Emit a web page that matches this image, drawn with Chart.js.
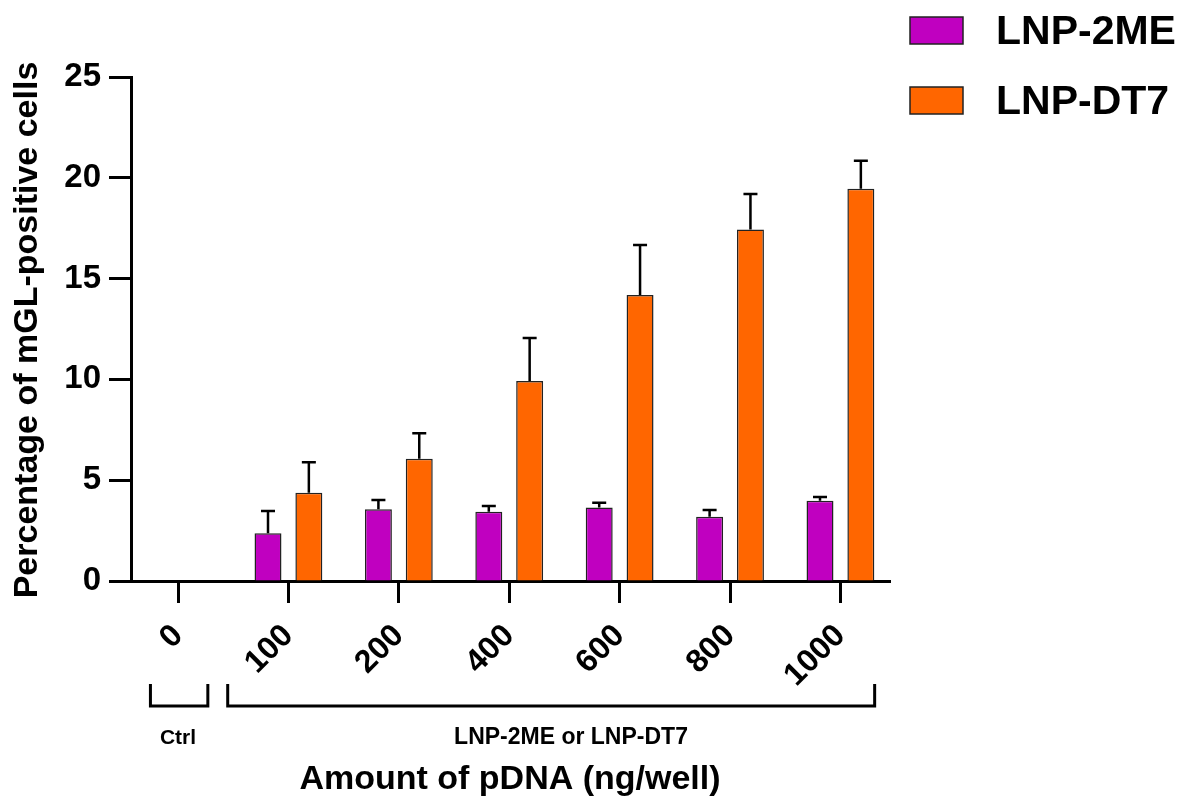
<!DOCTYPE html>
<html>
<head>
<meta charset="utf-8">
<script src="https://cdn.jsdelivr.net/npm/chart.js@4"></script>
<style>
  body { margin: 0; background: #fff; }
  canvas { display: block; }
</style>
</head>
<body>
<canvas id="pdnaChart" width="1182" height="801"></canvas>
<script>
// amounts of pDNA (ng/well), Ctrl first
const doseLabels = ['0', '100', '200', '400', '600', '800', '1000'];
const lnp2me = [0, 2.37, 3.56, 3.44, 3.64, 3.19, 3.98];
const lnp2meErr = [0, 1.10, 0.46, 0.28, 0.24, 0.33, 0.19];
const lnpdt7 = [0, 4.38, 6.07, 9.92, 14.19, 17.43, 19.46];
const lnpdt7Err = [0, 1.51, 1.26, 2.13, 2.48, 1.77, 1.39];
const yTicks = [0, 5, 10, 15, 20, 25];

const FONT = '"Liberation Sans", Arial, sans-serif';
const purple = 'rgb(192, 0, 192)';
const orange = 'rgb(255, 102, 0)';

function toPoints(values) {
	return values.map((v, i) => ({ x: i, y: v }));
}

// upward error bars with caps
const errorBars = {
	id: 'errorBars',
	afterDatasetsDraw(chart) {
		const ctx = chart.ctx;
		const yScale = chart.scales.y;
		chart.data.datasets.forEach((ds, di) => {
			const meta = chart.getDatasetMeta(di);
			meta.data.forEach((bar, i) => {
				const err = ds.errors[i];
				if (!err) return;
				const top = yScale.getPixelForValue(ds.data[i].y + err);
				ctx.save();
				ctx.strokeStyle = '#000';
				ctx.lineWidth = 2.5;
				ctx.beginPath();
				ctx.moveTo(bar.x, bar.y);
				ctx.lineTo(bar.x, top);
				ctx.moveTo(bar.x - 7, top);
				ctx.lineTo(bar.x + 7, top);
				ctx.stroke();
				ctx.restore();
			});
		});
	}
};

// legend, brackets, group labels and axis titles
const decorations = {
	id: 'decorations',
	afterDraw(chart) {
		const ctx = chart.ctx;
		const x = chart.scales.x;
		ctx.save();

		// legend
		const items = [
			{ text: 'LNP-2ME', color: purple, y: 30 },
			{ text: 'LNP-DT7', color: orange, y: 100 }
		];
		ctx.font = 'bold 41px ' + FONT;
		ctx.textBaseline = 'middle';
		ctx.textAlign = 'left';
		items.forEach(it => {
			ctx.fillStyle = it.color;
			ctx.fillRect(910, it.y - 13, 53, 27);
			ctx.strokeStyle = '#222';
			ctx.lineWidth = 1.5;
			ctx.strokeRect(910, it.y - 13, 53, 27);
			ctx.fillStyle = '#000';
			ctx.fillText(it.text, 996, it.y + 3);
		});

		// brackets
		ctx.strokeStyle = '#000';
		ctx.lineWidth = 3;
		const bracket = (a, b) => {
			const x1 = x.getPixelForValue(a);
			const x2 = x.getPixelForValue(b);
			ctx.beginPath();
			ctx.moveTo(x1, 684);
			ctx.lineTo(x1, 706);
			ctx.lineTo(x2, 706);
			ctx.lineTo(x2, 684);
			ctx.stroke();
		};
		bracket(-0.25, 0.27);
		bracket(0.45, 6.31);

		ctx.fillStyle = '#000';
		ctx.textAlign = 'center';
		ctx.textBaseline = 'middle';
		ctx.font = 'bold 21px ' + FONT;
		ctx.fillText('Ctrl', 178, 738);
		ctx.font = 'bold 23px ' + FONT;
		ctx.fillText('LNP-2ME or LNP-DT7', 571, 738);

		// x title
		ctx.font = 'bold 34px ' + FONT;
		ctx.fillText('Amount of pDNA (ng/well)', 510, 780);

		// y title
		ctx.translate(28, 330);
		ctx.rotate(-Math.PI / 2);
		ctx.font = 'bold 34px ' + FONT;
		ctx.fillText('Percentage of mGL-positive cells', 0, 0);
		ctx.restore();
	}
};

const target = document.getElementById('pdnaChart');
new Chart(target, {
	type: 'bar',
	data: {
		datasets: [{
			label: 'LNP-2ME',
			data: toPoints(lnp2me),
			errors: lnp2meErr,
			backgroundColor: purple,
			borderColor: '#222',
			borderWidth: 1.5
		}, {
			label: 'LNP-DT7',
			data: toPoints(lnpdt7),
			errors: lnpdt7Err,
			backgroundColor: orange,
			borderColor: '#222',
			borderWidth: 1.5
		}]
	},
	options: {
		responsive: false,
		animation: false,
		categoryPercentage: 0.74,
		barPercentage: 0.66,
		layout: { padding: { top: 77, right: 292, left: 0, bottom: 0 } },
		plugins: {
			legend: { display: false },
			tooltip: { enabled: false }
		},
		scales: {
			x: {
				type: 'linear',
				offset: false,
				min: -0.426,
				max: 6.449,
				afterBuildTicks: scale => {
					scale.ticks = doseLabels.map((l, i) => ({ value: i }));
				},
				afterFit: scale => { scale.height = 220; },
				grid: {
					offset: false,
					drawOnChartArea: false,
					tickLength: 22,
					tickWidth: 3,
					tickColor: '#000'
				},
				border: { color: '#000', width: 3 },
				ticks: {
					autoSkip: false,
					minRotation: 45,
					maxRotation: 45,
					padding: 14,
					color: '#000',
					font: { family: FONT, size: 32, weight: 'bold' },
					callback: (v, i) => doseLabels[i]
				}
			},
			y: {
				min: 0,
				max: 25,
				afterBuildTicks: scale => {
					scale.ticks = yTicks.map(v => ({ value: v }));
				},
				afterFit: scale => { scale.width = 131; },
				grid: {
					drawOnChartArea: false,
					tickLength: 22,
					tickWidth: 3,
					tickColor: '#000'
				},
				border: { color: '#000', width: 3 },
				ticks: {
					padding: 8,
					color: '#000',
					font: { family: FONT, size: 33, weight: 'bold' }
				}
			}
		}
	},
	plugins: [errorBars, decorations]
});
</script>
</body>
</html>
